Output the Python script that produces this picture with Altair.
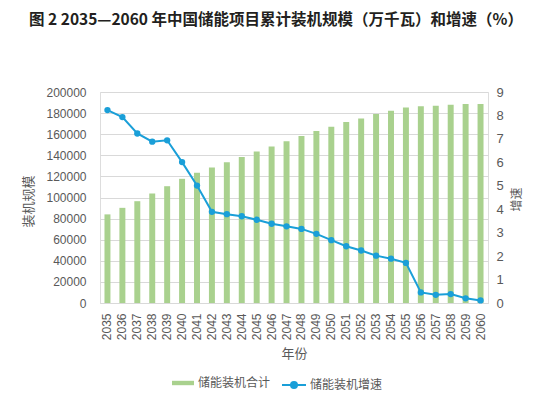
import altair as alt
import pandas as pd

years = [str(y) for y in range(2035, 2061)]
capacity = [84000, 90200, 96500, 103800, 110700, 117700, 123400, 128500, 133500,
            138300, 143700, 148400, 153200, 158200, 163000, 167100, 171500, 175000,
            179100, 182300, 185200, 186400, 187000, 188000, 188600, 188600]
growth = [8.23, 7.93, 7.23, 6.88, 6.94, 6.01, 5.01, 3.89, 3.79, 3.70, 3.55, 3.38,
          3.27, 3.16, 2.95, 2.68, 2.42, 2.24, 2.02, 1.89, 1.71, 0.45, 0.35, 0.38,
          0.20, 0.11]
series_bar = "储能装机合计"
series_line = "储能装机增速"
title_text = "图 2 2035—2060 年中国储能项目累计装机规模（万千瓦）和增速（%）"

df = pd.DataFrame({"年份": years, "cap": capacity, "gr": growth,
                   "s1": series_bar, "s2": series_line})

GREEN = "#a9d18e"
BLUE = "#1a9fd8"
GRAY = "#595959"
FONT = "Liberation Sans, Noto Sans CJK SC"

x = alt.X("年份:N", title="年份",
          scale=alt.Scale(paddingInner=0.6, paddingOuter=0.3),
          axis=alt.Axis(labelAngle=-90, labelFontSize=12, labelColor=GRAY,
                        titleFontSize=13, titleColor=GRAY, titleFontWeight="normal",
                        domainColor="#d9d9d9", ticks=False, labelPadding=10,
                        titlePadding=8, labelFont=FONT, titleFont=FONT))

bars = alt.Chart(df).mark_bar(color=GREEN).encode(
    x=x,
    y=alt.Y("cap:Q", title="装机规模",
            scale=alt.Scale(domain=[0, 200000]),
            axis=alt.Axis(orient="left", values=list(range(0, 200001, 20000)),
                          format="d", grid=True, gridColor="#d9d9d9", domain=False,
                          ticks=False, labelPadding=14, labelFontSize=12,
                          labelColor=GRAY, titleFontSize=13, titleColor=GRAY,
                          titleFontWeight="normal", labelFont=FONT, titleFont=FONT,
                          titleAngle=270, titleX=-72, titleY=109,
                          titleAlign="center", titleBaseline="middle")),
    color=alt.Color("s1:N", scale=alt.Scale(domain=[series_bar], range=[GREEN]),
                    legend=alt.Legend(title=None, orient="none", legendX=72, legendY=280,
                                      symbolType="M-1,-0.2H1V0.2H-1Z", symbolSize=484,
                                      symbolStrokeWidth=0, labelFontSize=12,
                                      labelColor=GRAY, labelFont=FONT, labelOffset=4)),
)

line = alt.Chart(df).mark_line(
    color=BLUE, strokeWidth=2,
    point=alt.OverlayMarkDef(filled=True, size=40, color=BLUE)
).encode(
    x=x,
    y=alt.Y("gr:Q", title="增速",
            scale=alt.Scale(domain=[0, 9]),
            axis=alt.Axis(orient="right", values=list(range(0, 10)), grid=False,
                          domain=False, ticks=False, labelPadding=8, labelFontSize=13,
                          labelColor=GRAY, titleFontSize=12, titleColor=GRAY,
                          titleFontWeight="normal", labelFont=FONT, titleFont=FONT,
                          titleAngle=270, titleX=28, titleY=107,
                          titleAlign="center", titleBaseline="middle")),
    color=alt.Color("s2:N", scale=alt.Scale(domain=[series_line], range=[BLUE]),
                    legend=alt.Legend(title=None, orient="none", legendX=181, legendY=280,
                                      symbolType="M-1,0H1M0.25,0A0.25,0.25 0 1 1 -0.25,0A0.25,0.25 0 1 1 0.25,0",
                                      symbolSize=576, symbolStrokeWidth=2,
                                      symbolFillColor=BLUE, symbolStrokeColor=BLUE,
                                      labelFontSize=12, labelColor=GRAY, labelFont=FONT,
                                      labelOffset=3)),
)

chart = alt.layer(bars, line).resolve_scale(y="independent", color="independent").properties(
    width=388, height=211,
    autosize=alt.AutoSizeParams(type="none"),
    padding={"left": 92, "top": 84, "right": 57, "bottom": 88},
    title=alt.TitleParams(title_text, fontSize=15.5, fontWeight="bold", color="#231f20",
                          font="Noto Sans CJK SC", anchor="middle", dx=-18, offset=58),
).configure_view(stroke=None).configure(background="white")

chart.save("out.html", embed_options={"renderer": "svg", "actions": False})
